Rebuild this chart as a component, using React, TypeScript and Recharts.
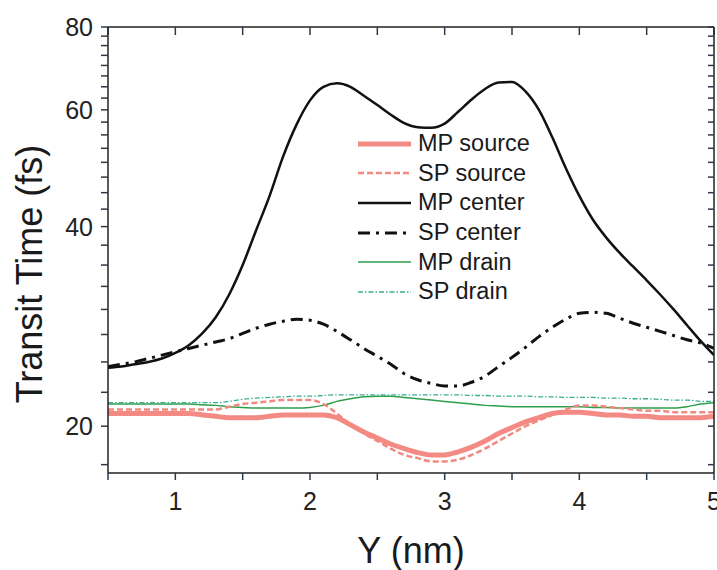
import React from "react";
import { LineChart, Line, XAxis, YAxis, Legend } from "recharts";

// Y position (nm), 0.1 nm steps
const XS = [
  0.5, 0.6, 0.7, 0.8, 0.9, 1.0, 1.1, 1.2, 1.3, 1.4, 1.5, 1.6, 1.7, 1.8, 1.9, 2.0,
  2.1, 2.2, 2.3, 2.4, 2.5, 2.6, 2.7, 2.8, 2.9, 3.0, 3.1, 3.2, 3.3, 3.4, 3.5, 3.6,
  3.7, 3.8, 3.9, 4.0, 4.1, 4.2, 4.3, 4.4, 4.5, 4.6, 4.7, 4.8, 4.9, 5.0,
];

// transit times (fs)
const MP_SOURCE = [
  20.9, 20.9, 20.9, 20.9, 20.9, 20.9, 20.9, 20.8, 20.7, 20.6, 20.6, 20.6, 20.7, 20.8, 20.8, 20.8,
  20.8, 20.6, 20.1, 19.6, 19.2, 18.8, 18.5, 18.25, 18.1, 18.1, 18.3, 18.6, 19.0, 19.5, 19.9, 20.3,
  20.6, 20.9, 21.0, 21.0, 20.9, 20.8, 20.8, 20.7, 20.7, 20.6, 20.6, 20.6, 20.6, 20.7,
];
const SP_SOURCE = [
  21.2, 21.2, 21.2, 21.2, 21.2, 21.2, 21.2, 21.2, 21.2, 21.4, 21.6, 21.7, 21.8, 21.9, 21.9, 21.9,
  21.6, 20.9, 20.1, 19.5, 19.0, 18.5, 18.1, 17.9, 17.7, 17.7, 17.8, 18.1, 18.5, 19.0, 19.5, 20.0,
  20.4, 20.8, 21.2, 21.5, 21.5, 21.4, 21.3, 21.2, 21.1, 21.1, 21.0, 21.0, 21.0, 21.0,
];
const MP_CENTER = [
  24.5, 24.6, 24.8, 25.0, 25.3, 25.8, 26.5, 27.6, 29.2, 31.6, 35.0, 39.5, 44.5, 51.0, 57.0, 62.0,
  65.0, 65.8, 65.0, 63.0, 61.0, 59.0, 57.3, 56.5, 56.4, 57.2, 59.6, 62.2, 64.5, 66.0, 66.1, 64.0,
  60.0, 54.5, 49.0, 44.5, 41.0, 38.5, 36.5, 34.8, 33.2, 31.6, 30.0, 28.4, 26.9, 25.6,
];
const SP_CENTER = [
  24.6, 24.8, 25.0, 25.3, 25.6, 25.9, 26.2, 26.5, 26.8, 27.1, 27.6, 28.1, 28.5, 28.8, 29.0, 28.9,
  28.5, 27.8, 27.0, 26.2, 25.5, 24.8, 24.0, 23.5, 23.2, 23.0, 23.0, 23.3, 23.8, 24.6, 25.4, 26.3,
  27.3, 28.2, 29.0, 29.6, 29.7, 29.6, 29.1, 28.6, 28.2, 27.8, 27.4, 27.0, 26.7, 26.2,
];
const MP_DRAIN = [
  21.6, 21.6, 21.6, 21.6, 21.6, 21.6, 21.6, 21.55, 21.5, 21.4, 21.35, 21.3, 21.3, 21.3, 21.3, 21.35,
  21.5, 21.8, 22.0, 22.15, 22.2, 22.2, 22.1, 22.0, 21.9, 21.8, 21.7, 21.6, 21.5, 21.45, 21.4, 21.4,
  21.4, 21.4, 21.4, 21.4, 21.35, 21.35, 21.3, 21.3, 21.3, 21.3, 21.3, 21.4, 21.6, 21.7,
];
const SP_DRAIN = [
  21.7, 21.7, 21.7, 21.7, 21.7, 21.7, 21.7, 21.7, 21.7, 21.8, 21.95, 22.05, 22.1, 22.15, 22.2, 22.2,
  22.25, 22.3, 22.3, 22.3, 22.3, 22.3, 22.3, 22.3, 22.3, 22.3, 22.3, 22.25, 22.25, 22.2, 22.2, 22.2,
  22.15, 22.15, 22.1, 22.1, 22.1, 22.05, 22.05, 22.0, 22.0, 21.95, 21.9, 21.9, 21.8, 21.8,
];

const X_TICKS = [0.5, 1, 1.5, 2, 2.5, 3, 3.5, 4, 4.5, 5];
const X_MAJOR = [1, 2, 3, 4, 5];
const Y_MAJOR = [20, 40, 60, 80];
const Y_TICKS = [
  17.5, 20, 22.5, 25, 27.5, 30, 32.5, 35, 37.5, 40, 42.5, 45, 47.5, 50, 52.5, 55, 57.5,
  60, 62.5, 65, 67.5, 70, 72.5, 75, 77.5, 80,
];

const data = XS.map((x, i) => ({
  x,
  mpSource: MP_SOURCE[i],
  spSource: SP_SOURCE[i],
  mpCenter: MP_CENTER[i],
  spCenter: SP_CENTER[i],
  mpDrain: MP_DRAIN[i],
  spDrain: SP_DRAIN[i],
}));

const SERIES = [
  { key: "mpDrain", name: "MP drain", color: "#2f9e4c", width: 1.5, dash: undefined },
  { key: "spDrain", name: "SP drain", color: "#3aae92", width: 1.3, dash: "5 2 1.5 2" },
  { key: "mpSource", name: "MP source", color: "#f48a84", width: 5, dash: undefined },
  { key: "spSource", name: "SP source", color: "#f08a80", width: 2.5, dash: "6 3" },
  { key: "spCenter", name: "SP center", color: "#111", width: 3, dash: "12 6 3 6" },
  { key: "mpCenter", name: "MP center", color: "#111", width: 2.5, dash: undefined },
];
const LEGEND_ORDER = ["mpSource", "spSource", "mpCenter", "spCenter", "mpDrain", "spDrain"];

const AXIS = "#222";
const TICK_LINE = { stroke: "#2a3a48", strokeWidth: 1.5 };
const FONT = "'Liberation Sans', Arial, sans-serif";

function BottomTick(props: any) {
  const v = props.payload.value;
  if (!X_MAJOR.includes(v)) return <g />;
  return (
    <text x={props.x} y={Number(props.y) + 30} textAnchor="middle" fontSize={25} fill="#222" fontFamily={FONT}>
      {v}
    </text>
  );
}

function LeftTick(props: any) {
  const v = props.payload.value;
  if (!Y_MAJOR.includes(v)) return <g />;
  return (
    <text x={Number(props.x) - 8} y={props.y} dy="0.36em" textAnchor="end" fontSize={25} fill="#222" fontFamily={FONT}>
      {v}
    </text>
  );
}

const blank = () => "";

function LegendBox() {
  return (
    <div style={{ fontFamily: FONT }}>
      {LEGEND_ORDER.map((k) => {
        const s = SERIES.find((d) => d.key === k)!;
        return (
          <div key={k} style={{ display: "flex", alignItems: "center", height: 29.6 }}>
            <svg width={58} height={12}>
              <line x1={3} x2={56} y1={6} y2={6} stroke={s.color} strokeWidth={s.width} strokeDasharray={s.dash} />
            </svg>
            <span style={{ fontSize: 23.5, color: "#1a1a1a", marginLeft: 5 }}>{s.name}</span>
          </div>
        );
      })}
    </div>
  );
}

export default function App() {
  return (
    <div style={{ position: "absolute", left: 0, top: 0, background: "#fff" }}>
      <LineChart width={717} height={570} data={data} margin={{ top: 0, right: 0, bottom: 0, left: 0 }} style={{ fontFamily: FONT }}>
        <XAxis
          dataKey="x"
          type="number"
          domain={[0.5, 5]}
          ticks={X_TICKS}
          interval={0}
          height={97}
          tickSize={7}
          tickMargin={0}
          tickLine={TICK_LINE}
          axisLine={{ stroke: AXIS, strokeWidth: 1.5 }}
          tick={<BottomTick />}
          allowDataOverflow
          label={{
            content: () => (
              <text x={411} y={563} textAnchor="middle" fontSize={36} fill="#1a1a1a" fontFamily={FONT}>
                Y (nm)
              </text>
            ),
          }}
        />
        <XAxis
          xAxisId="top"
          orientation="top"
          dataKey="x"
          type="number"
          domain={[0.5, 5]}
          ticks={X_TICKS}
          interval={0}
          height={27}
          tickSize={-8}
          tickMargin={0}
          tickLine={TICK_LINE}
          tickFormatter={blank}
          axisLine={{ stroke: AXIS, strokeWidth: 1.5 }}
          allowDataOverflow
        />
        <YAxis
          type="number"
          scale="log"
          domain={[17, 80]}
          ticks={Y_TICKS}
          interval={0}
          width={108}
          tickSize={7}
          tickMargin={0}
          tickLine={TICK_LINE}
          axisLine={{ stroke: AXIS, strokeWidth: 1.5 }}
          tick={<LeftTick />}
          allowDataOverflow
          label={{
            content: () => (
              <text x={29} y={274} transform="rotate(-90 29 274)" dy="0.36em" textAnchor="middle" fontSize={36} fill="#1a1a1a" fontFamily={FONT}>
                Transit Time (fs)
              </text>
            ),
          }}
        />
        <YAxis
          yAxisId="right"
          orientation="right"
          type="number"
          scale="log"
          domain={[17, 80]}
          ticks={Y_TICKS}
          interval={0}
          width={3}
          tickSize={-6}
          tickMargin={0}
          tickLine={TICK_LINE}
          tickFormatter={blank}
          axisLine={{ stroke: AXIS, strokeWidth: 1.5 }}
          allowDataOverflow
        />
        <Legend
          layout="vertical"
          align="center"
          verticalAlign="middle"
          content={<LegendBox />}
          wrapperStyle={{ left: 355, top: 129, width: 230 }}
        />
        {/* invisible copy bound to the mirror axes so they get a scale and ticks */}
        <Line
          xAxisId="top"
          yAxisId="right"
          dataKey="mpCenter"
          stroke="transparent"
          legendType="none"
          dot={false}
          activeDot={false}
          isAnimationActive={false}
        />
        {SERIES.map((s) => (
          <Line
            key={s.key}
            dataKey={s.key}
            name={s.name}
            type="monotone"
            stroke={s.color}
            strokeWidth={s.width}
            strokeDasharray={s.dash}
            dot={false}
            activeDot={false}
            isAnimationActive={false}
          />
        ))}
      </LineChart>
    </div>
  );
}
